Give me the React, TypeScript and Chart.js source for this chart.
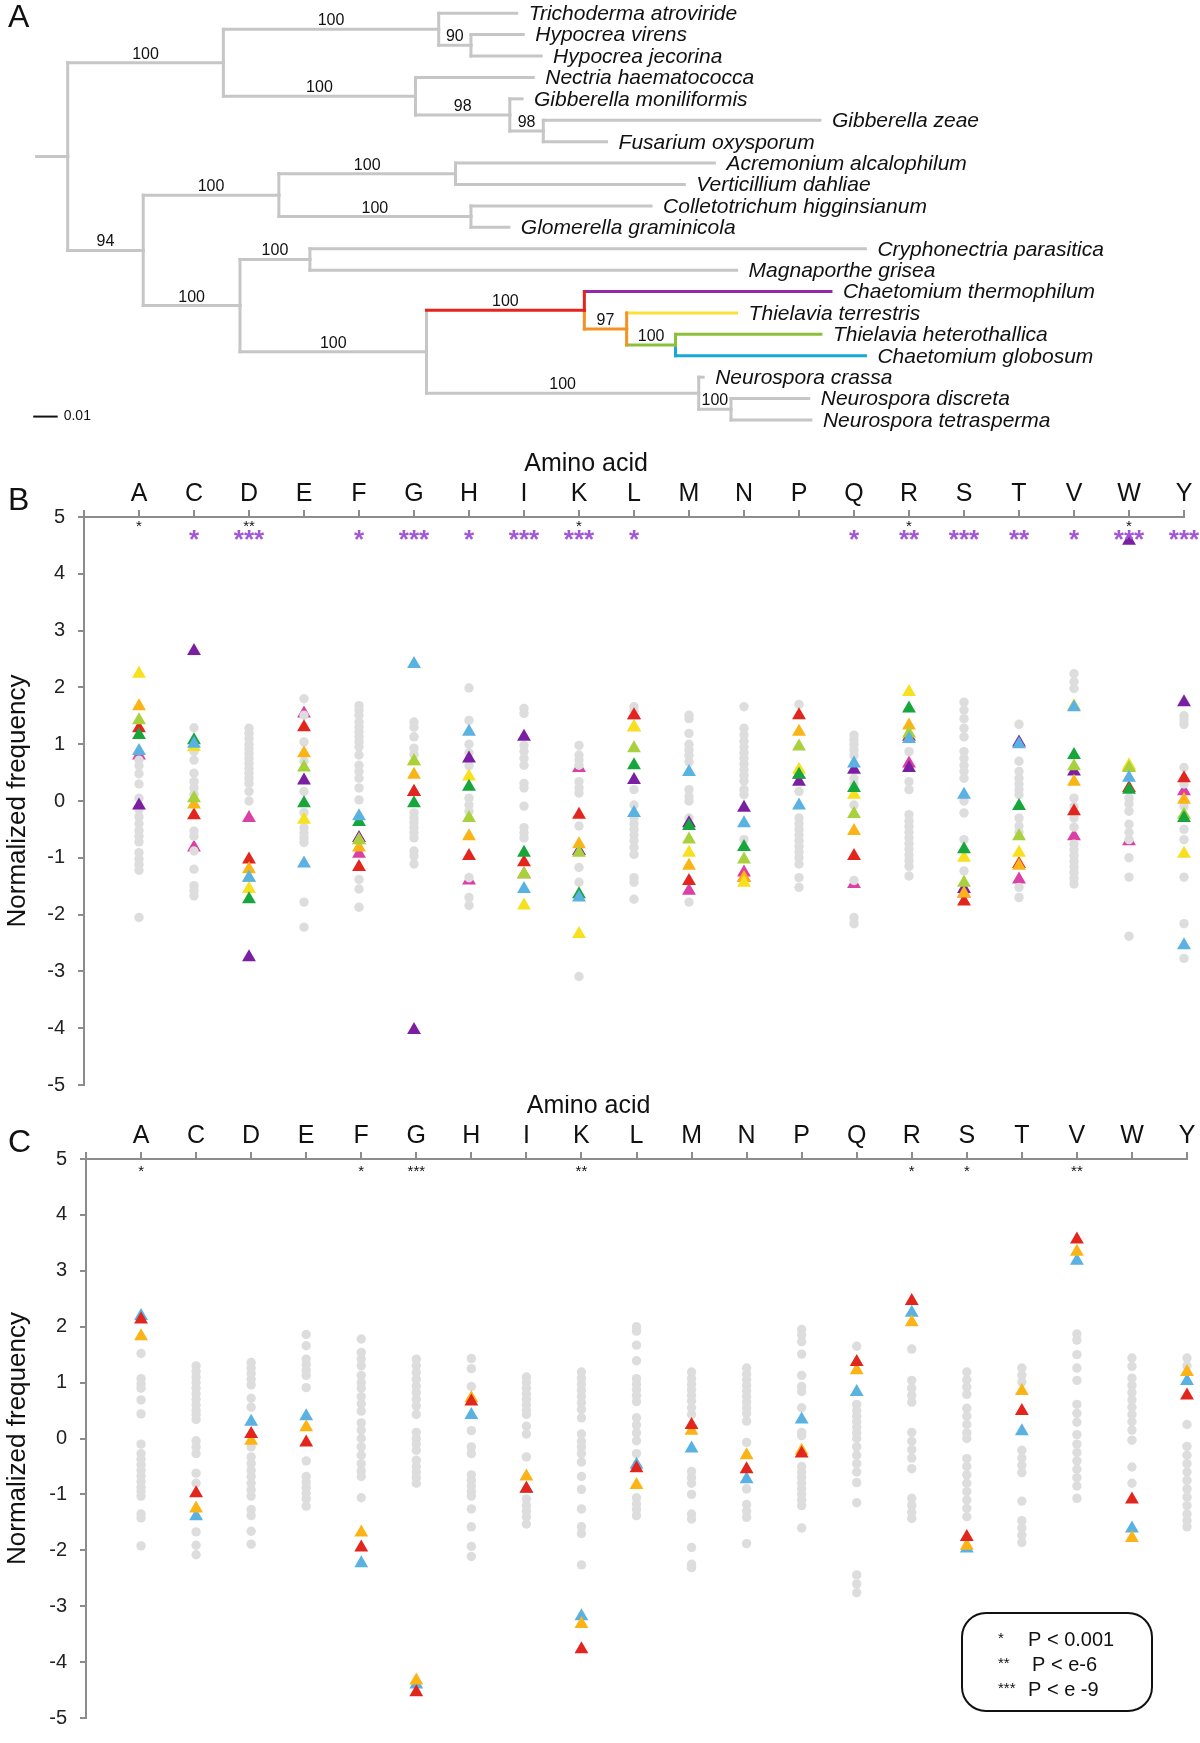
import React, { useEffect, useRef } from 'react';
import { Chart, registerables } from 'chart.js';

Chart.register(...registerables);

const FONT = '"Liberation Sans", Arial, Helvetica, sans-serif';
Chart.defaults.font.family = FONT;
Chart.defaults.color = '#111';

// ---------------- Panel A : phylogenetic tree ----------------
const leafNames = [
  'Trichoderma atroviride', 'Hypocrea virens', 'Hypocrea jecorina', 'Nectria haematococca',
  'Gibberella moniliformis', 'Gibberella zeae', 'Fusarium oxysporum', 'Acremonium alcalophilum',
  'Verticillium dahliae', 'Colletotrichum higginsianum', 'Glomerella graminicola', 'Cryphonectria parasitica',
  'Magnaporthe grisea', 'Chaetomium thermophilum', 'Thielavia terrestris', 'Thielavia heterothallica',
  'Chaetomium globosum', 'Neurospora crassa', 'Neurospora discreta', 'Neurospora tetrasperma',
];
// cumulative distance from the root stub, in units of the 0.01 scale bar
const leafDepth = [19.64, 19.91, 20.64, 20.32, 19.86, 32.05, 23.32, 27.73, 26.5, 25.14, 19.32, 33.91, 28.64, 32.5, 28.64, 32.09, 33.91, 27.27, 31.59, 31.68];
const cladeIds = ['root', 'n1', 'n1a', 'n1a1', 'n1b', 'n1b1', 'n1b2', 'n2', 'n2a', 'n2a1', 'n2a2', 'n2b', 'n2b1', 'n2b2', 'nRed', 'nOrange', 'nGreen', 'nGray', 'nGray2'];
const cladeDepth = [1.27, 7.64, 16.45, 17.77, 15.5, 19.36, 20.73, 4.36, 9.91, 17.14, 17.77, 8.32, 11.18, 15.95, 22.41, 24.14, 26.14, 27.09, 28.41];
const cladeSupport = [null, 100, 100, 90, 100, 98, 98, 94, 100, 100, 100, 100, 100, 100, 100, 97, 100, 100, 100];
const cladeChildren = [
  ['n1', 'n2'], ['n1a', 'n1b'], ['0', 'n1a1'], ['1', '2'], ['3', 'n1b1'], ['4', 'n1b2'], ['5', '6'],
  ['n2a', 'n2b'], ['n2a1', 'n2a2'], ['7', '8'], ['9', '10'], ['n2b1', 'n2b2'], ['11', '12'],
  ['nRed', 'nGray'], ['13', 'nOrange'], ['14', 'nGreen'], ['15', '16'], ['17', 'nGray2'], ['18', '19'],
];
const T_GRAY = '#c6c6c6';
const T_PURPLE = '#9427ab';
const T_RED = '#e2261d';
const T_ORANGE = '#f39323';
const T_YELLOW = '#f8e23a';
const T_GREEN = '#8cc03a';
const T_BLUE = '#18a7d6';
const branchColor: Record<string, string> = { nRed: T_RED, '13': T_PURPLE, nOrange: T_ORANGE, '14': T_YELLOW, nGreen: T_GREEN, '15': T_GREEN, '16': T_BLUE };
const connectorColor: Record<string, string> = { '13': T_RED, nOrange: T_ORANGE, '14': T_ORANGE, nGreen: T_ORANGE, '15': T_GREEN, '16': T_BLUE };

// ---------------- Panels B and C : amino acid frequencies ----------------
const aminoAcids = ['A', 'C', 'D', 'E', 'F', 'G', 'H', 'I', 'K', 'L', 'M', 'N', 'P', 'Q', 'R', 'S', 'T', 'V', 'W', 'Y'];

const bYellow = [2.24, 0.95, -1.55, -0.33, -0.69, 0.70, 0.43, -1.84, -2.34, 1.30, -0.91, -1.44, 0.55, 0.11, 1.92, -1.00, -0.91, 1.67, 0.63, -0.93];
const bOrange = [1.67, -0.06, -1.20, 0.84, -0.82, 0.46, -0.62, -1.29, -0.76, 1.30, -1.14, -1.35, 1.22, -0.53, 1.33, -1.63, -1.14, 0.34, 0.60, 0.02];
const bLightGreen = [1.42, 0.05, -1.35, 0.59, -0.69, 0.70, -0.30, -1.29, -0.91, 0.93, -0.68, -1.03, 0.96, -0.23, 1.19, -1.44, -0.62, 0.61, 0.58, -0.24];
const bGreen = [1.16, 1.07, -1.73, -0.04, -0.37, -0.04, 0.25, -0.91, -1.64, 0.63, -0.44, -0.81, 0.46, 0.23, 1.63, -0.85, -0.09, 0.81, 0.20, -0.30];
const bRed = [1.28, -0.25, -1.03, 1.30, -1.16, 0.16, -0.97, -1.08, -0.24, 1.51, -1.41, -1.35, 1.51, -0.97, 1.13, -1.77, -1.11, -0.18, 0.23, 0.40];
const bBlue = [0.88, 1.01, -1.35, -1.10, -0.27, 2.41, 1.22, -1.55, -1.70, -0.21, 0.51, -0.39, -0.08, 0.66, 1.09, 0.11, 1.00, 1.65, 0.41, -2.54];
const bPurple = [-0.08, 2.64, -2.75, 0.36, -0.65, -4.03, 0.75, 1.13, -0.88, 0.37, -0.39, -0.12, 0.34, 0.55, 0.58, -1.55, 1.03, 0.52, 4.58, 1.74];
const bMagenta = [0.80, -0.82, -0.30, 1.54, -0.93, 0.16, -1.40, -1.29, 0.58, 1.51, -1.58, -1.26, 0.46, -1.46, 0.66, -1.63, -1.38, -0.62, -0.71, 0.17];
const bGray = [
  [0.72, 0.62, 0.48, 0.30, 0.05, -0.15, -0.28, -0.40, -0.52, -0.62, -0.72, -0.91, -1.02, -1.12, -1.22, -2.05],
  [1.29, 0.87, 0.72, 0.49, 0.34, 0.23, 0.12, -0.53, -0.62, -0.88, -1.20, -1.49, -1.58, -1.67],
  [1.28, 1.19, 1.10, 1.00, 0.92, 0.83, 0.75, 0.66, 0.57, 0.49, 0.40, 0.31, 0.17, 0.00],
  [1.80, 1.51, 1.04, 0.70, 0.17, -0.20, -0.47, -0.56, -0.65, -0.73, -1.78, -2.22],
  [1.68, 1.60, 1.51, 1.39, 1.30, 1.22, 1.13, 1.04, 0.95, 0.81, 0.63, 0.52, 0.40, 0.23, 0.02, -1.38, -1.55, -1.87],
  [1.39, 1.30, 1.13, 0.93, 0.82, -0.21, -0.30, -0.38, -0.47, -0.56, -0.65, -0.88, -0.97, -1.11],
  [1.99, 1.42, 1.00, 0.85, 0.62, 0.05, -0.07, -0.18, -1.35, -1.70, -1.84],
  [1.63, 1.54, 0.98, 0.87, 0.75, 0.63, 0.31, 0.23, -0.09, -0.47, -0.56, -0.65],
  [0.98, 0.81, 0.72, 0.63, 0.34, 0.23, 0.14, -0.44, -1.17, -1.43, -3.09],
  [1.66, 1.58, 0.20, -0.07, -0.30, -0.40, -0.50, -0.60, -0.70, -0.82, -0.94, -1.35, -1.43, -1.73],
  [1.51, 1.45, 1.19, 1.00, 0.90, 0.80, 0.69, 0.20, 0.08, 0.00, -0.30, -1.78],
  [1.66, 1.28, 1.16, 1.05, 0.95, 0.85, 0.75, 0.65, 0.55, 0.45, 0.35, 0.20, 0.11, -0.68],
  [1.70, 0.17, -0.30, -0.40, -0.50, -0.60, -0.70, -0.80, -0.90, -1.00, -1.11, -1.35, -1.52],
  [1.16, 1.08, 1.00, 0.90, 0.80, 0.40, 0.30, -0.07, -1.40, -2.05, -2.16],
  [0.87, 0.34, 0.20, -0.24, -0.35, -0.45, -0.55, -0.65, -0.75, -0.85, -0.95, -1.05, -1.15, -1.32],
  [1.74, 1.60, 1.45, 1.28, 1.13, 0.87, 0.75, 0.63, 0.52, 0.40, 0.00, -0.21, -0.68, -1.23],
  [1.35, 0.70, 0.52, 0.40, 0.30, 0.20, 0.11, -0.30, -0.44, -0.55, -1.52, -1.70],
  [2.24, 2.10, 1.98, 0.05, -0.10, -0.30, -0.46, -0.76, -0.86, -0.96, -1.06, -1.16, -1.26, -1.36, -1.46],
  [0.05, -0.05, -0.18, -0.41, -0.55, -0.68, -1.00, -1.34, -2.38],
  [1.50, 1.43, 1.35, 0.59, 0.30, -0.10, -0.50, -0.68, -1.34, -2.16, -2.77],
];
const bStarsBlack = ['*', '', '**', '', '', '', '', '', '*', '', '', '', '', '', '*', '', '', '', '*', ''];
const bStarsPurple = ['', '*', '***', '', '*', '***', '*', '***', '***', '*', '', '', '', '*', '**', '***', '**', '*', '***', '***'];

const cOrange = [1.83, -1.25, -0.04, 0.20, -1.68, -4.33, 0.72, -0.68, -3.32, -0.83, 0.14, -0.30, -0.22, 1.22, 2.08, -1.92, 0.85, 3.34, -1.78, 1.19];
const cRed = [2.13, -0.98, 0.08, -0.07, -1.95, -4.54, 0.66, -0.90, -3.77, -0.53, 0.24, -0.55, -0.27, 1.37, 2.46, -1.76, 0.49, 3.56, -1.09, 0.77];
const cBlue = [2.19, -1.39, 0.30, 0.40, -2.23, -4.40, 0.42, -0.90, -3.18, -0.47, -0.18, -0.73, 0.34, 0.83, 2.25, -1.97, 0.13, 3.18, -1.61, 1.03];
const cGray = [
  [1.52, 1.07, 0.98, 0.90, 0.69, 0.44, -0.10, -0.27, -0.37, -0.47, -0.57, -0.67, -0.77, -0.87, -0.95, -1.03, -1.35, -1.42, -1.92],
  [1.30, 1.20, 1.10, 1.00, 0.90, 0.80, 0.70, 0.60, 0.50, 0.43, 0.34, -0.04, -0.15, -0.27, -0.62, -0.80, -1.67, -1.91, -2.08],
  [1.36, 1.26, 1.16, 1.06, 0.96, 0.72, 0.56, -0.15, -0.33, -0.45, -0.57, -0.68, -0.80, -0.92, -1.03, -1.27, -1.38, -1.66, -1.89],
  [1.86, 1.66, 1.42, 1.32, 1.22, 1.13, 0.91, -0.40, -0.68, -0.78, -0.88, -0.98, -1.08, -1.21],
  [1.78, 1.54, 1.42, 1.30, 1.13, 1.00, 0.90, 0.75, 0.62, 0.49, 0.28, 0.15, 0.00, -0.15, -0.30, -0.45, -0.58, -0.68, -1.06],
  [1.42, 1.30, 1.18, 1.06, 0.94, 0.82, 0.70, 0.58, 0.43, 0.11, 0.00, -0.10, -0.21, -0.39, -0.50, -0.60, -0.70, -0.80],
  [1.43, 1.25, 0.93, 0.14, -0.15, -0.27, -0.65, -0.75, -0.85, -0.95, -1.03, -1.26, -1.58, -1.93, -2.11],
  [1.10, 1.00, 0.90, 0.80, 0.70, 0.60, 0.50, 0.43, 0.22, 0.08, -0.33, -1.08, -1.20, -1.30, -1.40, -1.53],
  [1.19, 1.08, 0.97, 0.86, 0.75, 0.64, 0.52, 0.37, 0.08, -0.05, -0.15, -0.27, -0.42, -0.68, -0.91, -1.26, -1.58, -1.70, -2.26],
  [2.00, 1.92, 1.67, 1.39, 1.07, 0.97, 0.87, 0.77, 0.66, 0.37, 0.24, 0.10, -0.04, -0.27, -1.06, -1.17, -1.27, -1.38],
  [1.19, 1.07, 0.97, 0.87, 0.77, 0.67, 0.55, 0.43, -0.59, -0.70, -0.80, -1.00, -1.35, -1.44, -1.95, -2.25, -2.31],
  [1.26, 1.15, 1.05, 0.95, 0.85, 0.75, 0.65, 0.55, 0.45, 0.31, -0.07, -0.90, -1.18, -1.30, -1.41, -1.88],
  [1.95, 1.85, 1.73, 1.51, 1.13, 0.93, 0.84, 0.55, 0.11, 0.05, -0.50, -0.60, -0.70, -0.80, -0.90, -1.00, -1.10, -1.20, -1.60],
  [1.65, 0.61, 0.50, 0.40, 0.30, 0.20, 0.10, 0.00, -0.15, -0.30, -0.45, -0.60, -0.79, -1.15, -2.44, -2.60, -2.76],
  [1.60, 1.04, 0.90, 0.77, 0.65, 0.11, -0.05, -0.20, -0.35, -0.54, -1.07, -1.20, -1.32, -1.43],
  [1.19, 1.05, 0.92, 0.79, 0.54, 0.40, 0.25, 0.10, 0.00, -0.36, -0.50, -0.65, -0.80, -0.95, -1.10, -1.25, -1.40],
  [1.26, 1.13, 1.01, -0.21, -0.35, -0.48, -0.61, -1.12, -1.47, -1.60, -1.73, -1.86],
  [1.87, 1.76, 1.50, 1.26, 1.04, 0.61, 0.45, 0.29, 0.07, -0.10, -0.25, -0.40, -0.55, -0.70, -0.85, -1.07],
  [1.44, 1.29, 1.08, 0.95, 0.82, 0.69, 0.56, 0.43, 0.30, 0.15, -0.03, -0.51, -0.80],
  [1.44, 1.30, 0.25, -0.14, -0.30, -0.45, -0.60, -0.75, -0.90, -1.05, -1.20, -1.35, -1.47, -1.58],
];
const cStars = ['*', '', '', '', '*', '***', '', '', '**', '', '', '', '', '', '*', '*', '', '**', '', ''];
const legendRows = [['*', 'P < 0.001'], ['**', 'P < e-6'], ['***', 'P < e -9']];

const C_GRAY = '#dddddd';
const C_YELLOW = '#f7e01d';
const C_ORANGE = '#fbb417';
const C_LGREEN = '#a9d13e';
const C_GREEN = '#16a63c';
const C_RED = '#e2261d';
const C_BLUE = '#5ab2e2';
const C_PURPLE = '#7b1fa2';
const C_MAGENTA = '#dc3fa5';
const AXIS = '#8c8c8c';

// ---------------- helpers ----------------
function layoutTree() {
  const pos: Record<string, { x: number; y: number }> = {};
  const parent: Record<string, string> = {};
  leafNames.forEach((_, i) => { pos[String(i)] = { x: leafDepth[i], y: i }; });
  const place = (id: string): { x: number; y: number } => {
    if (pos[id]) return pos[id];
    const ci = cladeIds.indexOf(id);
    const kids = cladeChildren[ci].map((k) => { parent[k] = id; return place(k); });
    pos[id] = { x: cladeDepth[ci], y: kids.reduce((s, k) => s + k.y, 0) / kids.length };
    return pos[id];
  };
  place('root');
  return { pos, parent };
}

function buildTree(canvas: HTMLCanvasElement) {
  const { pos, parent } = layoutTree();
  const segs: { data: { x: number; y: number }[]; color: string; width: number; cap: string }[] = [];
  segs.push({ data: [{ x: 0, y: pos.root.y }, { x: pos.root.x, y: pos.root.y }], color: T_GRAY, width: 3, cap: 'square' });
  cladeIds.forEach((id, ci) => {
    const p = pos[id];
    cladeChildren[ci].forEach((k) => {
      const c = pos[k];
      segs.push({ data: [{ x: p.x, y: p.y }, { x: p.x, y: c.y }], color: connectorColor[k] ?? T_GRAY, width: 3, cap: 'square' });
      segs.push({ data: [{ x: p.x, y: c.y }, { x: c.x, y: c.y }], color: branchColor[k] ?? T_GRAY, width: 3, cap: 'square' });
    });
  });
  // scale bar (0.01)
  const barStart = -0.14;
  const barRow = 18.84;
  segs.push({ data: [{ x: barStart, y: barRow }, { x: barStart + 1, y: barRow }], color: '#111', width: 2, cap: 'butt' });

  const datasets = segs.map((s) => ({
    data: s.data,
    showLine: true,
    borderColor: s.color,
    borderWidth: s.width,
    borderCapStyle: s.cap,
    pointRadius: 0,
    clip: false,
    order: s.color === T_GRAY ? 2 : 1,
  }));

  const textPlugin = {
    id: 'treeText',
    afterDatasetsDraw(chart: any) {
      const { ctx } = chart;
      const x = chart.scales.x;
      const y = chart.scales.y;
      ctx.save();
      ctx.fillStyle = '#111';
      ctx.font = `italic 21px ${FONT}`;
      ctx.textAlign = 'left';
      ctx.textBaseline = 'middle';
      leafNames.forEach((n, i) => ctx.fillText(n, x.getPixelForValue(leafDepth[i]) + 12, y.getPixelForValue(i) + 1));
      ctx.font = `16px ${FONT}`;
      ctx.textAlign = 'center';
      ctx.textBaseline = 'alphabetic';
      cladeIds.forEach((id, ci) => {
        const s = cladeSupport[ci];
        if (s == null) return;
        const p = pos[id];
        const par = pos[parent[id]];
        ctx.fillText(String(s), x.getPixelForValue((p.x + par.x) / 2), y.getPixelForValue(p.y) - 4);
      });
      ctx.font = `14px ${FONT}`;
      ctx.textAlign = 'left';
      ctx.textBaseline = 'middle';
      ctx.fillText('0.01', x.getPixelForValue(barStart + 1) + 6, y.getPixelForValue(barRow));
      ctx.font = `32px ${FONT}`;
      ctx.fillText('A', 8, 18);
      ctx.restore();
    },
  };

  return new Chart(canvas, {
    type: 'scatter',
    data: { datasets } as any,
    options: {
      animation: false,
      responsive: false,
      devicePixelRatio: 1,
      events: [],
      layout: { padding: 0 },
      plugins: { legend: { display: false }, tooltip: { enabled: false } },
      scales: {
        x: { type: 'linear', display: false, min: -1.5, max: 47.6 },
        y: { type: 'linear', display: false, min: -0.617, max: 19.934, reverse: true },
      },
    } as any,
    plugins: [textPlugin],
  });
}

const seriesPoints = (vals: (number | null)[]) => vals.flatMap((v, i) => (v == null ? [] : [{ x: i, y: v }]));
const grayPoints = (cols: number[][]) => cols.flatMap((col, i) => col.map((v) => ({ x: i, y: v })));

type Layer = { label: string; color: string; style: string; radius: number; points: { x: number; y: number }[] };
type StarRow = { marks: string[]; color: string; font: string; baseline: number };

function buildAminoPanel(
  canvas: HTMLCanvasElement,
  cfg: { letter: string; layers: Layer[]; stars: StarRow[]; axisHeight: number; axisWidth: number; padding: any; legend: boolean },
) {
  const datasets = cfg.layers.map((L, idx) => ({
    label: L.label,
    data: L.points,
    pointStyle: L.style,
    pointRadius: L.radius,
    pointBackgroundColor: L.color,
    pointBorderWidth: 0,
    backgroundColor: L.color,
    borderColor: L.color,
    borderWidth: 0,
    clip: false,
    order: cfg.layers.length - idx,
  }));

  const textPlugin = {
    id: 'panelText',
    afterDraw(chart: any) {
      const { ctx, chartArea } = chart;
      const x = chart.scales.x;
      ctx.save();
      ctx.fillStyle = '#111';
      ctx.textAlign = 'left';
      ctx.textBaseline = 'middle';
      ctx.font = `32px ${FONT}`;
      ctx.fillText(cfg.letter, 8, chartArea.top - 16);
      ctx.textAlign = 'center';
      ctx.font = `25px ${FONT}`;
      ctx.fillText('Amino acid', x.getPixelForValue(8.13), chartArea.top - 53);
      ctx.textBaseline = 'alphabetic';
      cfg.stars.forEach((row) => {
        ctx.font = row.font;
        ctx.fillStyle = row.color;
        row.marks.forEach((m, i) => {
          if (m) ctx.fillText(m, x.getPixelForValue(i), chartArea.top + row.baseline);
        });
      });
      if (cfg.legend) {
        const bx = 962, by = 518, bw = 190, bh = 98, r = 24;
        ctx.beginPath();
        ctx.moveTo(bx + r, by);
        ctx.arcTo(bx + bw, by, bx + bw, by + bh, r);
        ctx.arcTo(bx + bw, by + bh, bx, by + bh, r);
        ctx.arcTo(bx, by + bh, bx, by, r);
        ctx.arcTo(bx, by, bx + bw, by, r);
        ctx.closePath();
        ctx.lineWidth = 2;
        ctx.strokeStyle = '#111';
        ctx.stroke();
        ctx.fillStyle = '#111';
        ctx.textAlign = 'left';
        legendRows.forEach((row, i) => {
          const ly = by + 27 + i * 25;
          ctx.font = `15px ${FONT}`;
          ctx.fillText(row[0], bx + 36, ly + 3);
          ctx.font = `20px ${FONT}`;
          ctx.textBaseline = 'middle';
          ctx.fillText(row[1], bx + (i === 1 ? 70 : 66), ly);
          ctx.textBaseline = 'alphabetic';
        });
      }
      ctx.restore();
    },
  };

  return new Chart(canvas, {
    type: 'scatter',
    data: { datasets } as any,
    options: {
      animation: false,
      responsive: false,
      devicePixelRatio: 1,
      events: [],
      layout: { padding: cfg.padding },
      plugins: { legend: { display: false }, tooltip: { enabled: false } },
      scales: {
        x: {
          type: 'linear',
          position: 'top',
          min: -1,
          max: 19,
          afterBuildTicks: (axis: any) => {
            axis.ticks = [-1, ...aminoAcids.map((_, i) => i)].map((v) => ({ value: v }));
          },
          afterFit: (axis: any) => { axis.height = cfg.axisHeight; },
          ticks: {
            autoSkip: false,
            maxRotation: 0,
            minRotation: 0,
            padding: 1,
            color: '#111',
            font: { size: 25 },
            callback: (v: any) => aminoAcids[v] ?? '',
          },
          grid: { drawOnChartArea: false, drawTicks: true, tickLength: 7, color: AXIS, lineWidth: 2 },
          border: { display: true, color: AXIS, width: 2 },
        },
        y: {
          type: 'linear',
          min: -5,
          max: 5,
          afterFit: (axis: any) => { axis.width = cfg.axisWidth; },
          ticks: { stepSize: 1, padding: 13, color: '#222', font: { size: 20 } },
          grid: { drawOnChartArea: false, drawTicks: true, tickLength: 6, color: AXIS, lineWidth: 2 },
          border: { display: true, color: AXIS, width: 2 },
          title: { display: true, text: 'Normalized frequency', color: '#111', font: { size: 26 }, padding: { top: 2, bottom: 0 } },
        },
      },
    } as any,
    plugins: [textPlugin],
  });
}

const tri = (label: string, color: string, vals: number[]): Layer => ({ label, color, style: 'triangle', radius: 8, points: seriesPoints(vals) });

export default function App() {
  const aRef = useRef<HTMLCanvasElement>(null);
  const bRef = useRef<HTMLCanvasElement>(null);
  const cRef = useRef<HTMLCanvasElement>(null);

  useEffect(() => {
    const charts: Chart[] = [];
    charts.push(buildTree(aRef.current!));
    charts.push(
      buildAminoPanel(bRef.current!, {
        letter: 'B',
        layers: [
          tri('magenta', C_MAGENTA, bMagenta),
          { label: 'other species', color: C_GRAY, style: 'circle', radius: 4.7, points: grayPoints(bGray) },
          tri('purple', C_PURPLE, bPurple),
          tri('red', C_RED, bRed),
          tri('orange', C_ORANGE, bOrange),
          tri('yellow', C_YELLOW, bYellow),
          tri('light green', C_LGREEN, bLightGreen),
          tri('green', C_GREEN, bGreen),
          tri('blue', C_BLUE, bBlue),
        ],
        stars: [
          { marks: bStarsBlack, color: '#111', font: `15px ${FONT}`, baseline: 14 },
          { marks: bStarsPurple, color: '#a258d6', font: `bold 26px ${FONT}`, baseline: 31 },
        ],
        axisHeight: 77,
        axisWidth: 84,
        padding: { left: 0, right: 16, top: 0, bottom: 21 },
        legend: false,
      }),
    );
    charts.push(
      buildAminoPanel(cRef.current!, {
        letter: 'C',
        layers: [
          { label: 'other species', color: C_GRAY, style: 'circle', radius: 4.7, points: grayPoints(cGray) },
          tri('blue', C_BLUE, cBlue),
          tri('orange', C_ORANGE, cOrange),
          tri('red', C_RED, cRed),
        ],
        stars: [{ marks: cStars, color: '#111', font: `15px ${FONT}`, baseline: 17 }],
        axisHeight: 64,
        axisWidth: 86,
        padding: { left: 0, right: 13, top: 0, bottom: 13 },
        legend: true,
      }),
    );
    return () => charts.forEach((c) => c.destroy());
  }, []);

  return (
    <div style={{ position: 'absolute', left: 0, top: 0, width: 1200, height: 1743, background: '#fff', overflow: 'hidden' }}>
      <canvas ref={aRef} width={1200} height={440} style={{ position: 'absolute', left: 0, top: 0, width: 1200, height: 440 }} />
      <canvas ref={bRef} width={1200} height={670} style={{ position: 'absolute', left: 0, top: 440, width: 1200, height: 670 }} />
      <canvas ref={cRef} width={1200} height={648} style={{ position: 'absolute', left: 0, top: 1095, width: 1200, height: 648 }} />
    </div>
  );
}
